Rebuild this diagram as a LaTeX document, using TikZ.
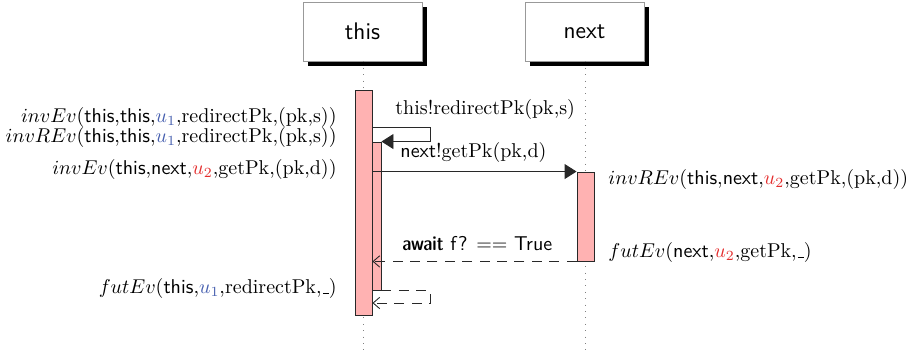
\documentclass[tikz,border=0pt]{standalone}
\usepackage{amsmath, amssymb}
\usepackage{tikz}
\usetikzlibrary{arrows.meta, shadows, fit, positioning}
\definecolor{ublue}{RGB}{70,95,175}
\definecolor{ured}{RGB}{228,45,45}
\definecolor{linegray}{RGB}{40,40,40}
\newcommand{\evblank}{\leavevmode\kern.06em\vbox{\hrule width .3em}}

\begin{document}
\begin{tikzpicture}[x=0.5pt,y=-0.5pt,font=\normalsize,line width=0.45pt]

	\tikzset{obj box/.style={rectangle, draw=gray!80, fill=white,
			minimum width=59.5pt, minimum height=29.5pt,
			font=\sffamily\large,
			drop shadow={shadow xshift=2.5pt, shadow yshift=-2.5pt,
				fill=black, opacity=1}}}
	\tikzset{life line/.style={gray, dash pattern=on 0.5pt off 2.7pt, line width=0.5pt}}
	\tikzset{call bar/.style={rectangle, draw=linegray, fill=red!30, inner sep=0pt}}
	\tikzset{call/.style={draw=linegray, -{Triangle[length=6pt,width=7.5pt]}}}
	\tikzset{reply/.style={draw=linegray, dash pattern=on 5pt off 3.7pt,
			-{Straight Barb[length=3.3pt,width=5.7pt]}}}
	\tikzset{ev left/.style={anchor=east, inner sep=0pt}}
	\tikzset{ev right/.style={anchor=west, inner sep=0pt}}
	\tikzset{msg/.style={anchor=base west, inner sep=0pt, text=black}}

	\useasboundingbox (0,0) rectangle (915,356);

	% objects and their life lines
	\node[obj box] (this) at (362.5,31.5) {this};
	\node[obj box] (next) at (584.5,31.5) {next};
	\coordinate (thisend) at (363.5,352);
	\coordinate (nextend) at (585.5,352);
	\draw[life line] ([xshift=0.5pt]this.south) -- (thisend);
	\draw[life line] ([xshift=0.5pt]next.south) -- (nextend);

	% activations
	\node[call bar, fit={(355,90) (372,315)}] (run) {};
	\node[call bar, fit={(372,142) (381,290)}] (redir) {};
	\node[call bar, fit={(577,172) (594,261)}] (getpk) {};

	% self call
	\coordinate (selfout) at (430,127);
	\draw[call] (run.east |- selfout) -- (selfout) |- (redir.north east);
	\node[msg] (selflbl) at (395,115) {this!redirectPk(pk,s)};

	% call to next
	\draw[call] (run.east |- getpk.north west) -- (getpk.north west);
	\node[msg] (calllbl) at (400,158) {\textsf{next}!getPk(pk,d)};

	% replies
	\draw[reply] (getpk.south west) -- (run.east |- getpk.south west);
	\node[msg] (awaitlbl) at (402,251)
		{\textsf{{\fontseries{sbc}\selectfont await} f?} $==$ \textsf{True}};
	\coordinate (selfback) at (430,303);
	\draw[reply] (redir.south east) -| (selfback) -- (run.east |- selfback);

	% events
	\node[ev left] (ev1) at (337,118)
		{$invEv$(\textsf{this},\textsf{this},$\textcolor{ublue}{u_1}$,redirectPk,(pk,s))};
	\node[ev left] (ev2) at (337,138)
		{$invREv$(\textsf{this},\textsf{this},$\textcolor{ublue}{u_1}$,redirectPk,(pk,s))};
	\node[ev left] (ev3) at (337,170)
		{$invEv$(\textsf{this},\textsf{next},$\textcolor{ured}{u_2}$,getPk,(pk,d))};
	\node[ev left] (ev4) at (337,289)
		{$futEv$(\textsf{this},$\textcolor{ublue}{u_1}$,redirectPk,\evblank)};
	\node[ev right] (ev5) at (608,180)
		{$invREv$(\textsf{this},\textsf{next},$\textcolor{ured}{u_2}$,getPk,(pk,d))};
	\node[ev right] (ev6) at (608,253)
		{$futEv$(\textsf{next},$\textcolor{ured}{u_2}$,getPk,\evblank)};

\end{tikzpicture}
\end{document}
